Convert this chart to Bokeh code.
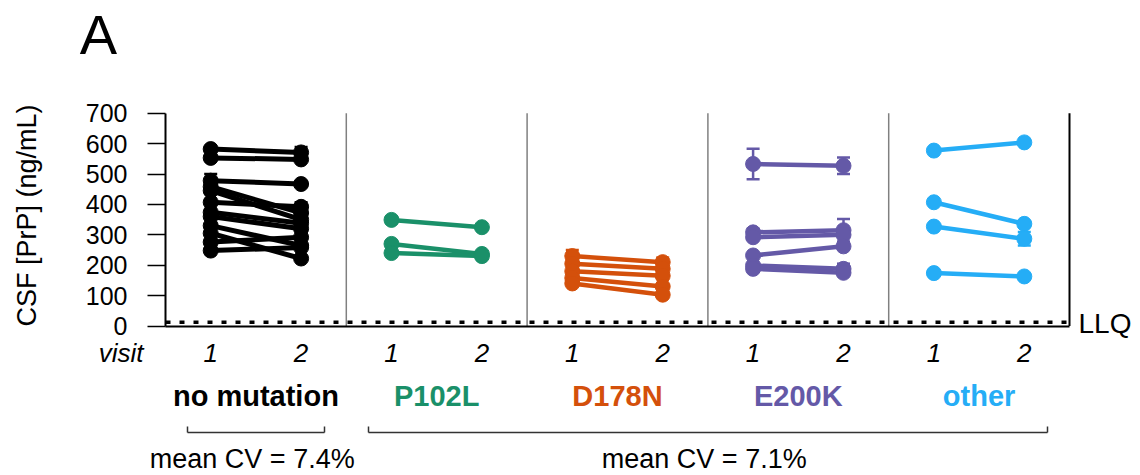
import math
from bokeh.plotting import figure
from bokeh.models import (ColumnDataSource, Range1d, Label, Arrow, Whisker,
                          TeeHead, FixedTicker)
from bokeh.embed import file_html
from bokeh.resources import INLINE

# ---------------- data ----------------
groups = ["no mutation", "P102L", "D178N", "E200K", "other"]
colors = ["#000000", "#1a9069", "#d4500b", "#6459a7", "#25adf6"]
visit_labels = ["1", "2"]
y_ticks = [0, 100, 200, 300, 400, 500, 600, 700]
llq = 12

nomut_v1 = [582, 553, 478, 458, 445, 407, 374, 360, 330, 305, 276, 248]
nomut_v2 = [571, 548, 467, 372, 350, 392, 338, 320, 265, 222, 292, 258]
nomut_e1 = [0, 0, 22, 0, 0, 0, 0, 0, 0, 0, 0, 0]
nomut_e2 = [18, 0, 0, 0, 0, 15, 0, 0, 0, 0, 0, 0]

p102l_v1 = [349, 270, 240]
p102l_v2 = [325, 237, 230]
p102l_e1 = [10, 0, 0]
p102l_e2 = [0, 0, 0]

d178n_v1 = [230, 205, 180, 158, 140]
d178n_v2 = [210, 188, 165, 130, 103]
d178n_e1 = [20, 0, 0, 0, 0]
d178n_e2 = [15, 0, 0, 0, 0]

e200k_v1 = [533, 308, 292, 232, 199, 188]
e200k_v2 = [527, 315, 300, 262, 188, 175]
e200k_e1 = [50, 12, 0, 0, 0, 0]
e200k_e2 = [27, 37, 0, 0, 17, 0]

other_v1 = [577, 407, 327, 174]
other_v2 = [604, 336, 287, 163]
other_e1 = [0, 0, 0, 0]
other_e2 = [0, 8, 22, 10]

series = [
    (nomut_v1, nomut_v2, nomut_e1, nomut_e2),
    (p102l_v1, p102l_v2, p102l_e1, p102l_e2),
    (d178n_v1, d178n_v2, d178n_e1, d178n_e2),
    (e200k_v1, e200k_v2, e200k_e1, e200k_e2),
    (other_v1, other_v2, other_e1, other_e2),
]
cv_labels = ["mean CV =  7.4%", "mean CV =  7.1%"]

# ---------------- layout (pixel positions of the plot box) ----------------
W, H = 1140, 475
X_LEFT_PX, X_RIGHT_PX = 165.0, 1069.0      # x = 0 and x = 5
Y_BOT_PX, Y_TOP_PX = 325.5, 112.7          # y = 0 and y = 700
NPANEL = len(groups)
YMAX = y_ticks[-1]
PXX = (X_RIGHT_PX - X_LEFT_PX) / NPANEL     # px per x unit
PXY = (Y_BOT_PX - Y_TOP_PX) / YMAX          # px per y unit
FONT = "Liberation Sans"


def dx(cx):
    return (cx - X_LEFT_PX) / PXX


def dy(cy):
    return (Y_BOT_PX - cy) / PXY


p = figure(width=W, height=H, output_backend="svg", toolbar_location=None,
           x_range=Range1d(dx(0), dx(W)), y_range=Range1d(dy(H), dy(0)),
           min_border=0)
p.min_border_left = 0
p.min_border_right = 0
p.min_border_top = 0
p.min_border_bottom = 0
p.outline_line_color = None
p.grid.visible = False
p.background_fill_color = "white"
p.border_fill_color = "white"

# y axis
ya = p.yaxis[0]
ya.fixed_location = 0
ya.bounds = (0, YMAX)
ya.ticker = FixedTicker(ticks=y_ticks)
ya.axis_line_color = "black"
ya.axis_line_width = 2
ya.major_tick_line_width = 1.5
ya.major_tick_out = 18
ya.major_tick_in = 0
ya.minor_tick_out = 0
ya.minor_tick_in = 0
ya.major_label_text_font = FONT
ya.major_label_text_font_size = "25px"
ya.major_label_text_color = "black"
ya.major_label_standoff = 20

# x axis: visit numbers
xa = p.xaxis[0]
xa.fixed_location = 0
xa.bounds = (0, NPANEL)
xt = []
for k in range(NPANEL):
    xt += [k + 0.25, k + 0.75]
xa.ticker = FixedTicker(ticks=xt)
xa.major_label_overrides = {t: visit_labels[i % 2] for i, t in enumerate(xt)}
xa.axis_line_color = "black"
xa.axis_line_width = 2
xa.major_tick_out = 0
xa.major_tick_in = 0
xa.minor_tick_out = 0
xa.minor_tick_in = 0
xa.major_label_text_font = FONT
xa.major_label_text_font_size = "26px"
xa.major_label_text_font_style = "italic"
xa.major_label_text_color = "black"
xa.major_label_standoff = 18

# panel separators and right border
sep_x = list(range(1, NPANEL))
p.segment(x0=sep_x, y0=[0] * len(sep_x), x1=sep_x, y1=[YMAX] * len(sep_x),
          line_color="#808080", line_width=1.5)
p.segment(x0=[NPANEL], y0=[0], x1=[NPANEL], y1=[YMAX], line_color="black",
          line_width=2)

# LLQ dotted line
p.line([0, NPANEL], [llq, llq], line_color="black", line_width=3.5,
       line_dash="5 9")

# data
for k, (v1, v2, e1, e2) in enumerate(series):
    c = colors[k]
    x1, x2 = k + 0.25, k + 0.75
    lw = 5 if k == 0 else 4.5
    src = ColumnDataSource(dict(
        xs=[[x1, x2] for _ in v1],
        ys=[[a, b] for a, b in zip(v1, v2)],
    ))
    p.multi_line("xs", "ys", source=src, line_color=c, line_width=lw)
    pts = ColumnDataSource(dict(
        x=[x1] * len(v1) + [x2] * len(v2),
        y=list(v1) + list(v2),
    ))
    p.scatter("x", "y", source=pts, size=15, fill_color=c, line_color=c)
    ex, ey, ee = [], [], []
    for a, e in zip(v1, e1):
        if e > 0:
            ex.append(x1); ey.append(a); ee.append(e)
    for b, e in zip(v2, e2):
        if e > 0:
            ex.append(x2); ey.append(b); ee.append(e)
    if ex:
        wsrc = ColumnDataSource(dict(
            x=ex, lo=[a - e for a, e in zip(ey, ee)],
            hi=[a + e for a, e in zip(ey, ee)]))
        w = Whisker(base="x", lower="lo", upper="hi", source=wsrc,
                    line_color=c, line_width=2.5,
                    upper_head=TeeHead(size=13, line_color=c, line_width=2.5),
                    lower_head=TeeHead(size=13, line_color=c, line_width=2.5))
        p.add_layout(w)


def lab(x, cy, text, size, style="normal", color="black", align="center",
        baseline="alphabetic", angle=0.0):
    # cy: wanted baseline in pixels; Bokeh draws labels ~0.4 em lower
    if baseline == "alphabetic":
        cy = cy - 0.4 * size
    p.add_layout(Label(x=x, y=dy(cy), text=text, text_font=FONT,
                       text_font_size=f"{size}px", text_font_style=style,
                       text_color=color, text_align=align,
                       text_baseline=baseline, angle=angle))


lab(dx(98), 56, "A", 56)
lab(dx(26), 215, "CSF [PrP] (ng/mL)", 27, baseline="middle",
    angle=math.pi / 2)
lab(dx(143), 363, "visit", 26, style="italic", align="right")
lab(dx(1078), 334, "LLQ", 28, align="left")
for k, g in enumerate(groups):
    lab(k + 0.5, 407, g, 29, style="bold", color=colors[k])

# brackets
brackets = [(dx(187), dx(324)), (dx(368), dx(1047))]
yb, yt = dy(432), dy(426)
for (a, b), t in zip(brackets, cv_labels):
    for (xs0, ys0, xs1, ys1) in [(a, yb, b, yb), (a, yb, a, yt), (b, yb, b, yt)]:
        p.add_layout(Arrow(x_start=xs0, y_start=ys0, x_end=xs1, y_end=ys1,
                           end=None, line_color="#333333", line_width=1.5))
    lab((a + b) / 2, 469, t, 27)

open("out.html", "w").write(file_html(p, INLINE))
